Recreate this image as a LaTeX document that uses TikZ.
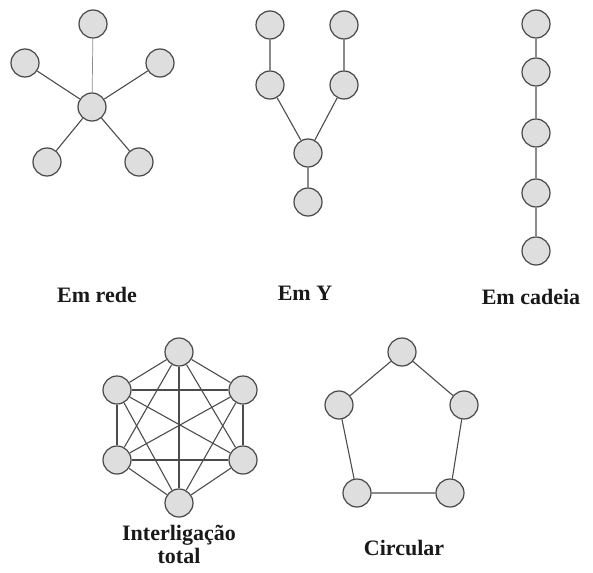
\documentclass[tikz,border=0pt]{standalone}
\usepackage{fontspec}
\setmainfont{Liberation Serif}
\begin{document}
\begin{tikzpicture}[x=1pt,y=-1pt,
  nd/.style={circle,draw=black!72,line width=1.2pt,fill=black!13,minimum size=28pt,inner sep=0pt},
  ed/.style={draw=black!70,line width=1.1pt},
  lbl/.style={font=\fontsize{22}{23}\selectfont\bfseries,text=black!90,align=center,inner sep=0pt}]
\useasboundingbox (0,0) rectangle (593,572);
% Em rede
\node[nd] (r0) at (92,107) {};
\node[nd] (r1) at (93,24) {};
\node[nd] (r2) at (25,63) {};
\node[nd] (r3) at (160,63) {};
\node[nd] (r4) at (47,162) {};
\node[nd] (r5) at (139,162) {};
\draw[ed,line width=0.7pt,draw=black!45] (r0)--(r1);
\foreach \k in {2,3,4,5} \draw[ed] (r0)--(r\k);
\node[lbl] (lr) at (97,295) {Em rede};
% Em Y
\node[nd] (y1) at (270,25) {};
\node[nd] (y2) at (344,25) {};
\node[nd] (y3) at (270,85) {};
\node[nd] (y4) at (344,85) {};
\node[nd] (y5) at (308,153) {};
\node[nd] (y6) at (308,202) {};
\draw[ed] (y1)--(y3) (y2)--(y4) (y3)--(y5) (y4)--(y5) (y5)--(y6);
\node[lbl] (ly) at (305,293) {Em Y};
% Em cadeia
\node[nd] (c1) at (536,24) {};
\node[nd] (c2) at (536,72) {};
\node[nd] (c3) at (536,133) {};
\node[nd] (c4) at (536,193) {};
\node[nd] (c5) at (536,251) {};
\draw[ed,draw=black!45] (c1)--(c2) (c2)--(c3) (c3)--(c4) (c4)--(c5);
\node[lbl] (lc) at (531,297) {Em cadeia};
% Interligacao total
\node[nd] (t1) at (179,352) {};
\node[nd] (t2) at (117,390) {};
\node[nd] (t3) at (243,390) {};
\node[nd] (t4) at (117,460) {};
\node[nd] (t5) at (243,460) {};
\node[nd] (t6) at (179,503) {};
\foreach \a/\b in {1/2,1/3,1/4,1/5,1/6,2/3,2/4,2/5,2/6,3/4,3/5,3/6,4/5,4/6,5/6}
  \draw[ed] (t\a)--(t\b);
\node[lbl] (lt) at (179,544) {Interligação\\total};
% Circular
\node[nd] (k1) at (402,352) {};
\node[nd] (k2) at (339,405) {};
\node[nd] (k3) at (464,405) {};
\node[nd] (k4) at (357,493) {};
\node[nd] (k5) at (450,493) {};
\draw[ed] (k1)--(k2) (k2)--(k4) (k4)--(k5) (k5)--(k3) (k3)--(k1);
\node[lbl] (lk) at (404,548) {Circular};
\end{tikzpicture}
\end{document}
